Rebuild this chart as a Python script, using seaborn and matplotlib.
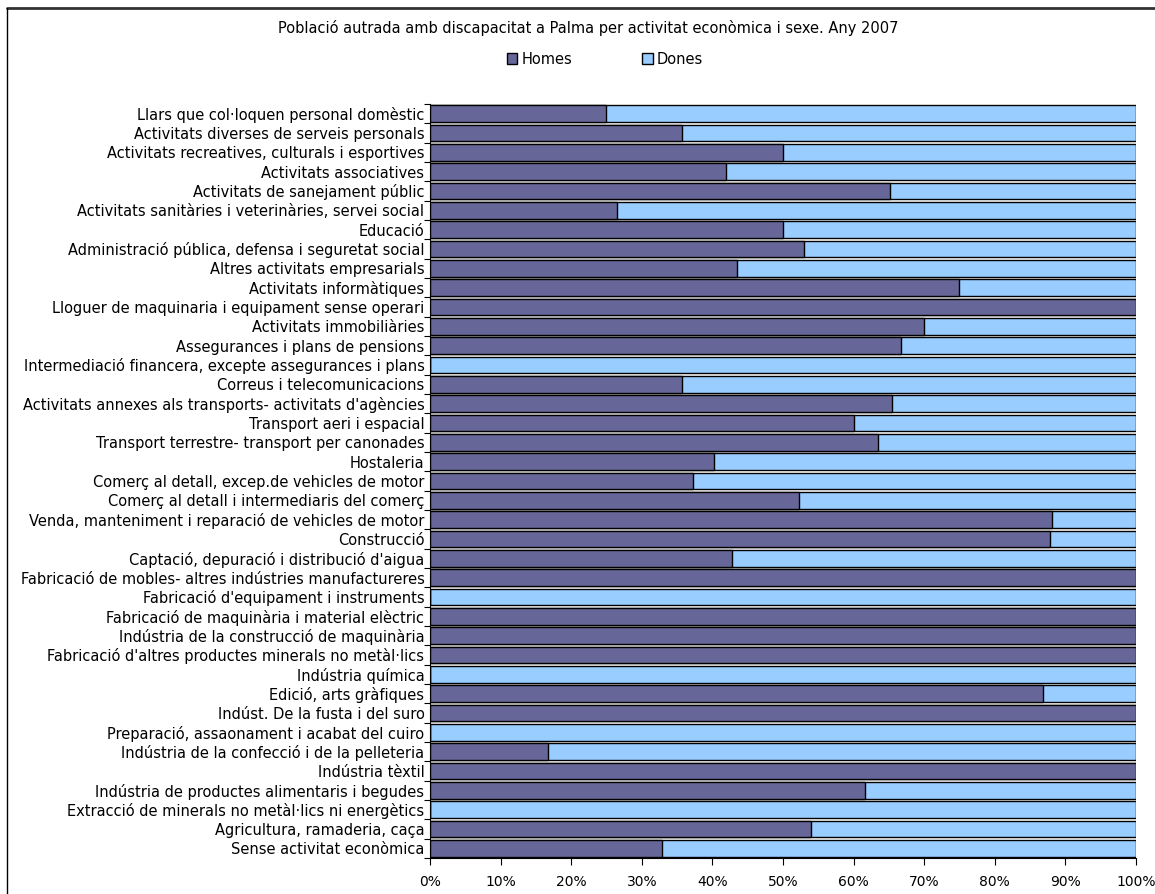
import numpy as np
import pandas as pd
import matplotlib
matplotlib.use("Agg")
import matplotlib.pyplot as plt
import matplotlib.patches as mpatches
import matplotlib.lines as mlines
from matplotlib.ticker import FixedLocator
import seaborn as sns

# ── data (percentages, top to bottom) ─────────────────────────
activitats = [
    "Llars que col·loquen personal domèstic",
    "Activitats diverses de serveis personals",
    "Activitats recreatives, culturals i esportives",
    "Activitats associatives",
    "Activitats de sanejament públic",
    "Activitats sanitàries i veterinàries, servei social",
    "Educació",
    "Administració pública, defensa i seguretat social",
    "Altres activitats empresarials",
    "Activitats informàtiques",
    "Lloguer de maquinaria i equipament sense operari",
    "Activitats immobiliàries",
    "Assegurances i plans de pensions",
    "Intermediació financera, excepte assegurances i plans",
    "Correus i telecomunicacions",
    "Activitats annexes als transports- activitats d'agències",
    "Transport aeri i espacial",
    "Transport terrestre- transport per canonades",
    "Hostaleria",
    "Comerç al detall, excep.de vehicles de motor",
    "Comerç al detall i intermediaris del comerç",
    "Venda, manteniment i reparació de vehicles de motor",
    "Construcció",
    "Captació, depuració i distribució d'aigua",
    "Fabricació de mobles- altres indústries manufactureres",
    "Fabricació d'equipament i instruments",
    "Fabricació de maquinària i material elèctric",
    "Indústria de la construcció de maquinària",
    "Fabricació d'altres productes minerals no metàl·lics",
    "Indústria química",
    "Edició, arts gràfiques",
    "Indúst. De la fusta i del suro",
    "Preparació, assaonament i acabat del cuiro",
    "Indústria de la confecció i de la pelleteria",
    "Indústria tèxtil",
    "Indústria de productes alimentaris i begudes",
    "Extracció de minerals no metàl·lics ni energètics",
    "Agricultura, ramaderia, caça",
    "Sense activitat econòmica",
]

homes = [25.0, 35.7, 50.0, 42.0, 65.2, 26.5, 50.0, 53.0, 43.5, 75.0,
         100.0, 70.0, 66.7, 0.0, 35.7, 65.4, 60.0, 63.4, 40.2, 37.2,
         52.2, 88.1, 87.8, 42.8, 100.0, 0.0, 100.0, 100.0, 100.0, 0.0,
         86.8, 100.0, 0.0, 16.7, 100.0, 61.6, 0.0, 53.9, 32.8]

dones = [75.0, 64.3, 50.0, 58.0, 34.8, 73.5, 50.0, 47.0, 56.5, 25.0,
         0.0, 30.0, 33.3, 100.0, 64.3, 34.6, 40.0, 36.6, 59.8, 62.8,
         47.8, 11.9, 12.2, 57.2, 0.0, 100.0, 0.0, 0.0, 0.0, 100.0,
         13.2, 0.0, 100.0, 83.3, 0.0, 38.4, 100.0, 46.1, 67.2]

x_ticks = [0, 10, 20, 30, 40, 50, 60, 70, 80, 90, 100]

title = "Població autrada amb discapacitat a Palma per activitat econòmica i sexe. Any 2007"
col_homes = "#666699"
col_dones = "#99CCFF"

df = pd.DataFrame({"activitat": activitats, "Homes": homes, "Dones": dones})
df["total"] = df["Homes"] + df["Dones"]

# ── plot ──────────────────────────────────────────────────────
sns.set_theme(style="white")
plt.rcParams["font.family"] = ["DejaVu Sans"]
plt.rcParams["text.color"] = "black"
plt.rcParams["xtick.color"] = "black"
plt.rcParams["ytick.color"] = "black"
fs = 10.5

fig = plt.figure(figsize=(11.55, 8.94), dpi=100)
ax = fig.add_axes([0.3723, 0.0403, 0.6112, 0.8434])

sns.barplot(data=df, y="activitat", x="total", color=col_dones, orient="h",
            width=0.86, edgecolor="black", linewidth=1.0, saturation=1, ax=ax)
sns.barplot(data=df, y="activitat", x="Homes", color=col_homes, orient="h",
            width=0.86, edgecolor="black", linewidth=1.0, saturation=1, ax=ax)

ax.set_xlim(0, 100)
ax.set_ylim(len(activitats) - 0.5, -0.5)
ax.set_xlabel("")
ax.set_ylabel("")
ax.set_xticks(x_ticks)
ax.set_xticklabels([f"{t}%" for t in x_ticks], fontsize=10)
ax.tick_params(axis="y", which="major", length=0, labelsize=fs, pad=4)
ax.yaxis.set_minor_locator(FixedLocator(np.arange(-0.5, len(activitats), 1.0)))
ax.tick_params(axis="y", which="minor", length=4, width=0.8, color="black",
               direction="out", left=True)
ax.tick_params(axis="x", length=5, width=0.8, color="black",
               direction="out", bottom=True, pad=7)

for s in ["top", "right"]:
    ax.spines[s].set_visible(False)
for s in ["left", "bottom"]:
    ax.spines[s].set_color("black")
    ax.spines[s].set_linewidth(0.8)

fig.text(0.509, 0.969, title, ha="center", va="center", fontsize=fs)

handles = [mpatches.Patch(facecolor=col_homes, edgecolor="black", label="Homes"),
           mpatches.Patch(facecolor=col_dones, edgecolor="black", label="Dones")]
fig.legend(handles=handles, loc="center", bbox_to_anchor=(0.524, 0.934),
           ncol=2, frameon=False, fontsize=fs, handlelength=0.7,
           handleheight=0.7, handletextpad=0.3, columnspacing=4.8)

# chart frame: only the top and left edges are inside the picture
fig.add_artist(mlines.Line2D([0.006, 1.0], [0.991, 0.991], color="#333333",
                             linewidth=2.0, transform=fig.transFigure))
fig.add_artist(mlines.Line2D([0.006, 0.006], [0.0, 0.991], color="black",
                             linewidth=1.0, transform=fig.transFigure))

fig.savefig("out.png", dpi=100)
